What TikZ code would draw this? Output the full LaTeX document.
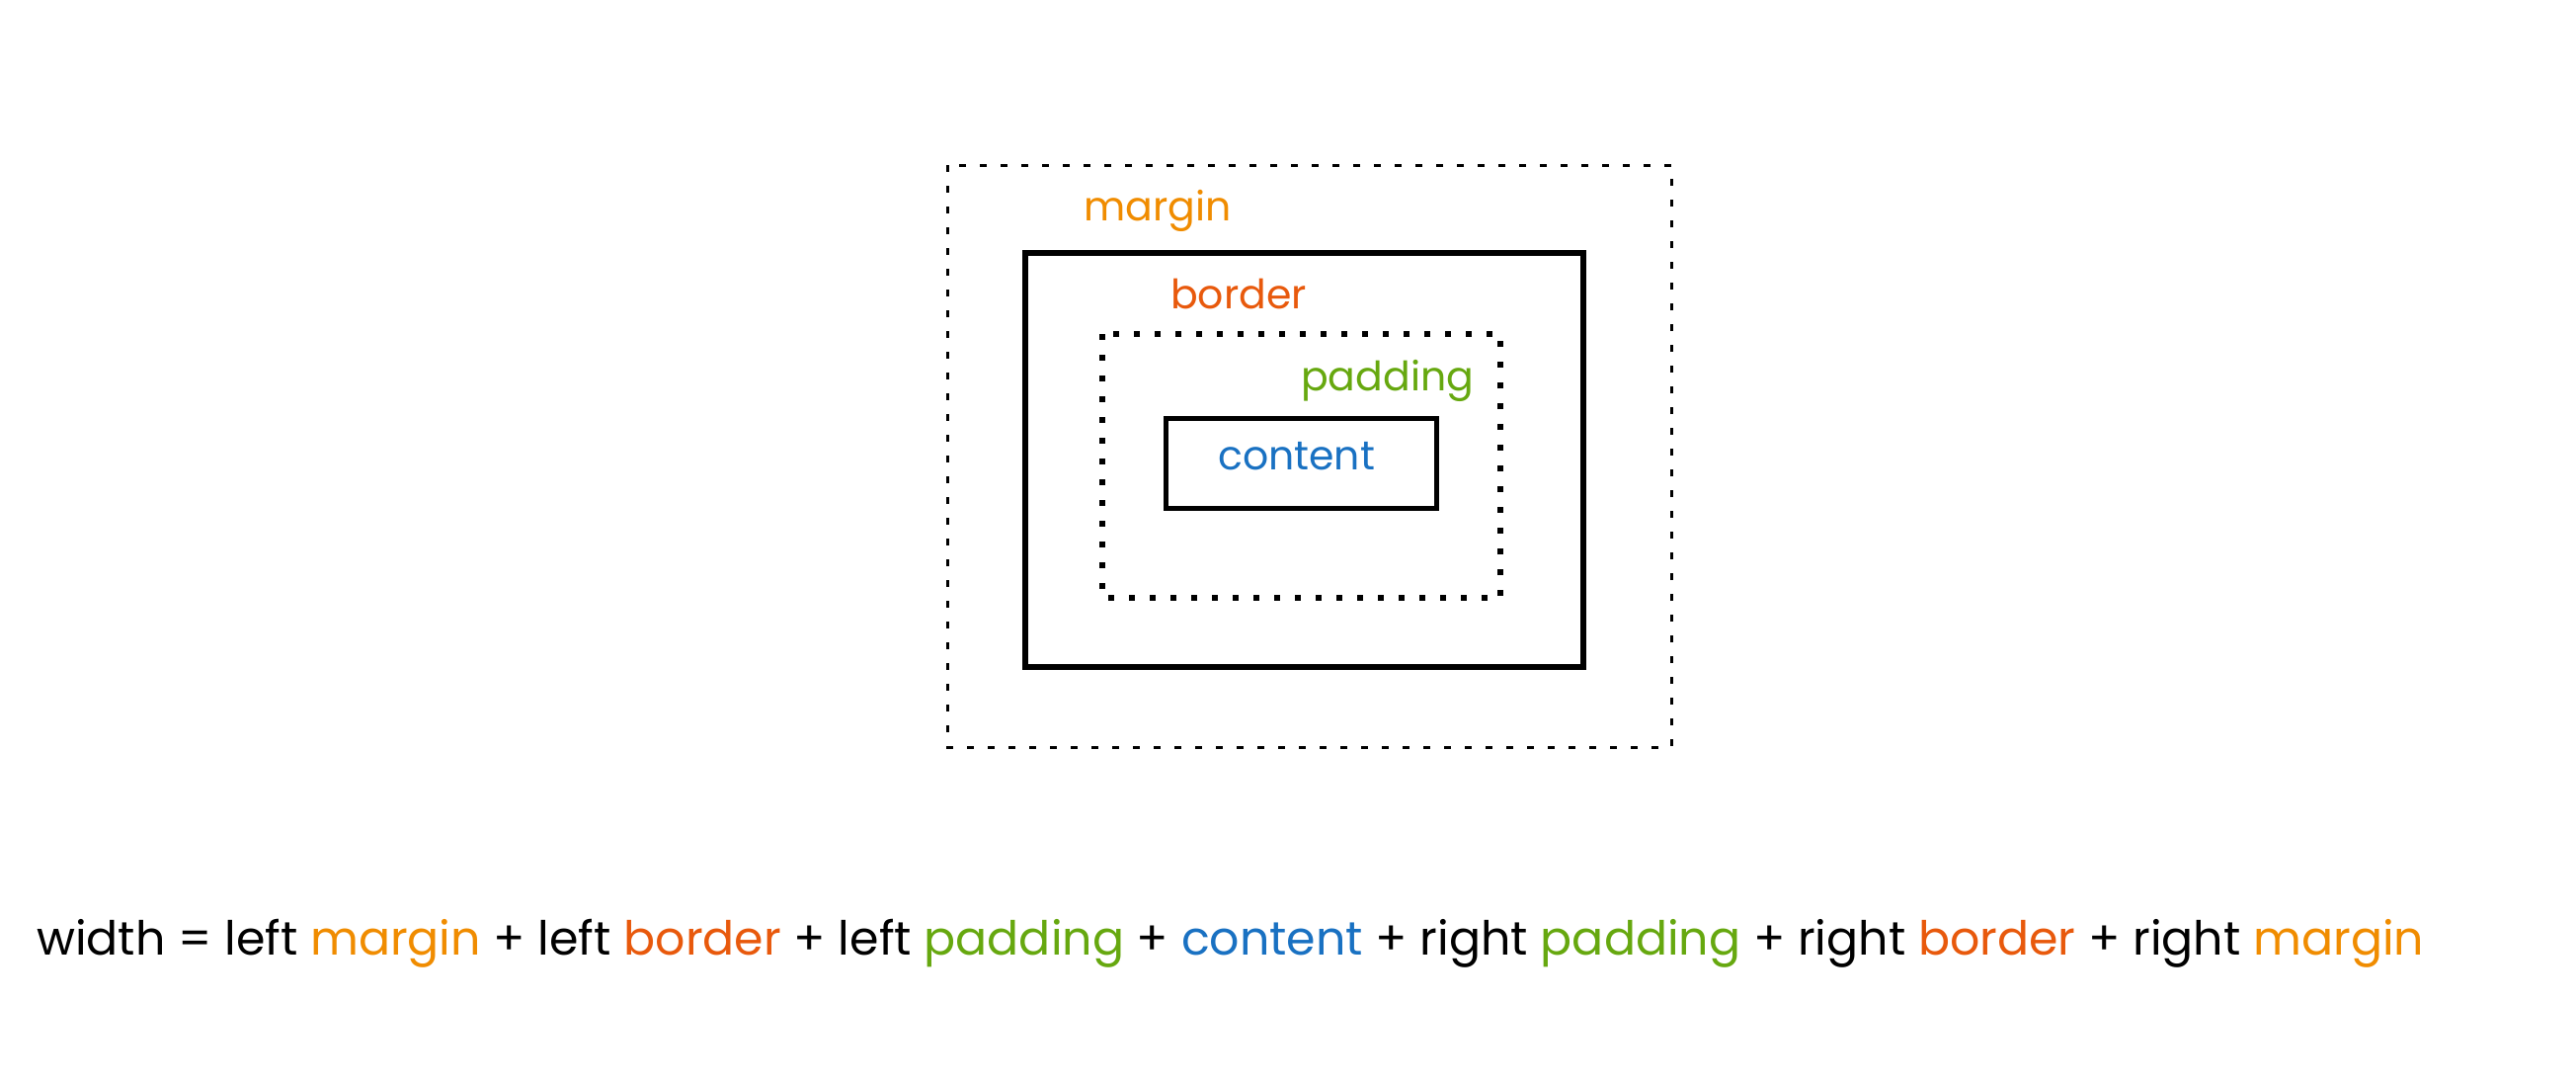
\documentclass[tikz,border=0pt]{standalone}
\usepackage{fontspec}
\setmainfont{Poppins}
\definecolor{cmargin}{HTML}{F08C00}
\definecolor{cborder}{HTML}{E8590C}
\definecolor{cpadding}{HTML}{66A80F}
\definecolor{ccontent}{HTML}{1971C2}
\begin{document}
\begin{tikzpicture}[x=1pt,y=-1pt,
  lbl/.style={inner sep=0pt,anchor=base west,font=\fontsize{41}{48}\selectfont},
  marginbox/.style={draw=black,line width=3pt,dash pattern=on 7pt off 14pt},
  borderbox/.style={draw=black,line width=6pt},
  paddingbox/.style={draw=black,line width=6pt,dash pattern=on 6pt off 15pt},
  contentbox/.style={draw=black,line width=5pt}]
\useasboundingbox[fill=white] (0,0) rectangle (2608,1098);
\draw[marginbox] (959,167) rectangle (1692,756);
\draw[borderbox] (1038,256) rectangle (1603,675);
\draw[paddingbox] (1116,338) rectangle (1519,605);
\draw[contentbox] (1180,423) rectangle (1454,514);
\node[lbl,text=cmargin] (lm) at (1097,223) {margin};
\node[lbl,text=cborder] (lb) at (1185,312) {border};
\node[lbl,text=cpadding] (lp) at (1317,395) {padding};
\node[lbl,text=ccontent] (lc) at (1233,475) {content};
\node[lbl,font=\fontsize{47.5}{56}\selectfont] (formula) at (37,966) {width = left \textcolor{cmargin}{margin} + left \textcolor{cborder}{border} + left \textcolor{cpadding}{padding} + \textcolor{ccontent}{content} + right \textcolor{cpadding}{padding} + right \textcolor{cborder}{border} + right \textcolor{cmargin}{margin}};
\end{tikzpicture}
\end{document}
